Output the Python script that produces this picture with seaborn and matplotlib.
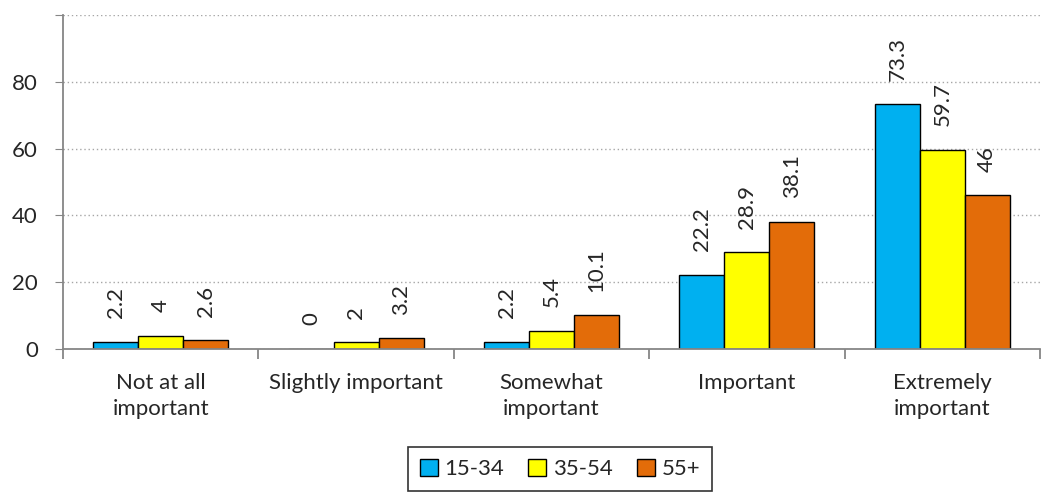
import numpy as np
import pandas as pd
import matplotlib.pyplot as plt
import seaborn as sns

categories = ["Not at all\nimportant", "Slightly important", "Somewhat\nimportant",
              "Important", "Extremely\nimportant"]
groups = ["15-34", "35-54", "55+"]
v_15_34 = [2.2, 0, 2.2, 22.2, 73.3]
v_35_54 = [4, 2, 5.4, 28.9, 59.7]
v_55 = [2.6, 3.2, 10.1, 38.1, 46]
colors = ["#00B0F0", "#FFFF00", "#E36C09"]

df = pd.DataFrame({
    "Category": categories * 3,
    "Group": [g for g in groups for _ in categories],
    "Value": v_15_34 + v_35_54 + v_55,
})

sns.set_style("white")
plt.rcParams["font.family"] = ["Lato", "DejaVu Sans"]

fig = plt.figure(figsize=(10.55, 4.94), dpi=100)
ax = fig.add_axes([63 / 1055, 1 - 349 / 494, (1040 - 63) / 1055, (349 - 15) / 494])

sns.barplot(data=df, x="Category", y="Value", hue="Group", palette=colors,
            edgecolor="black", linewidth=1, width=0.69, saturation=1, ax=ax)

for cont in ax.containers:
    ax.bar_label(cont, fmt="%g", rotation=90, padding=17, fontsize=16)

ax.set_ylim(0, 100)
ax.set_xlim(-0.5, 4.5)
ax.set_yticks(np.arange(0, 101, 20))
ax.set_yticklabels(["0", "20", "40", "60", "80", ""])
ax.yaxis.grid(True, linestyle=(0, (1, 2)), color="#A6A6A6", linewidth=1)
ax.set_axisbelow(True)
ax.set_xlabel("")
ax.set_ylabel("")

for s in ["top", "right"]:
    ax.spines[s].set_visible(False)
for s in ["left", "bottom"]:
    ax.spines[s].set_color("#868686")
    ax.spines[s].set_linewidth(1.3)

ax.tick_params(axis="y", left=True, length=6, color="#868686", labelsize=16, pad=12)
ax.tick_params(axis="x", which="major", bottom=False, labelsize=16, pad=14)
for lbl in ax.get_xticklabels():
    lbl.set_linespacing(1.35)
ax.set_xticks(np.arange(-0.5, 5, 1), minor=True)
ax.tick_params(axis="x", which="minor", bottom=True, length=7, color="#868686", width=1.3)

leg = ax.legend(loc="center", bbox_to_anchor=(560 / 1055, 1 - 469 / 494),
                bbox_transform=fig.transFigure, ncol=3, frameon=True, fancybox=False,
                fontsize=16, handlelength=0.8, handleheight=0.8, handletextpad=0.3,
                columnspacing=1.1, borderpad=0.55)
leg.get_frame().set_edgecolor("black")
leg.get_frame().set_linewidth(1.2)

fig.savefig("out.png", dpi=100)
